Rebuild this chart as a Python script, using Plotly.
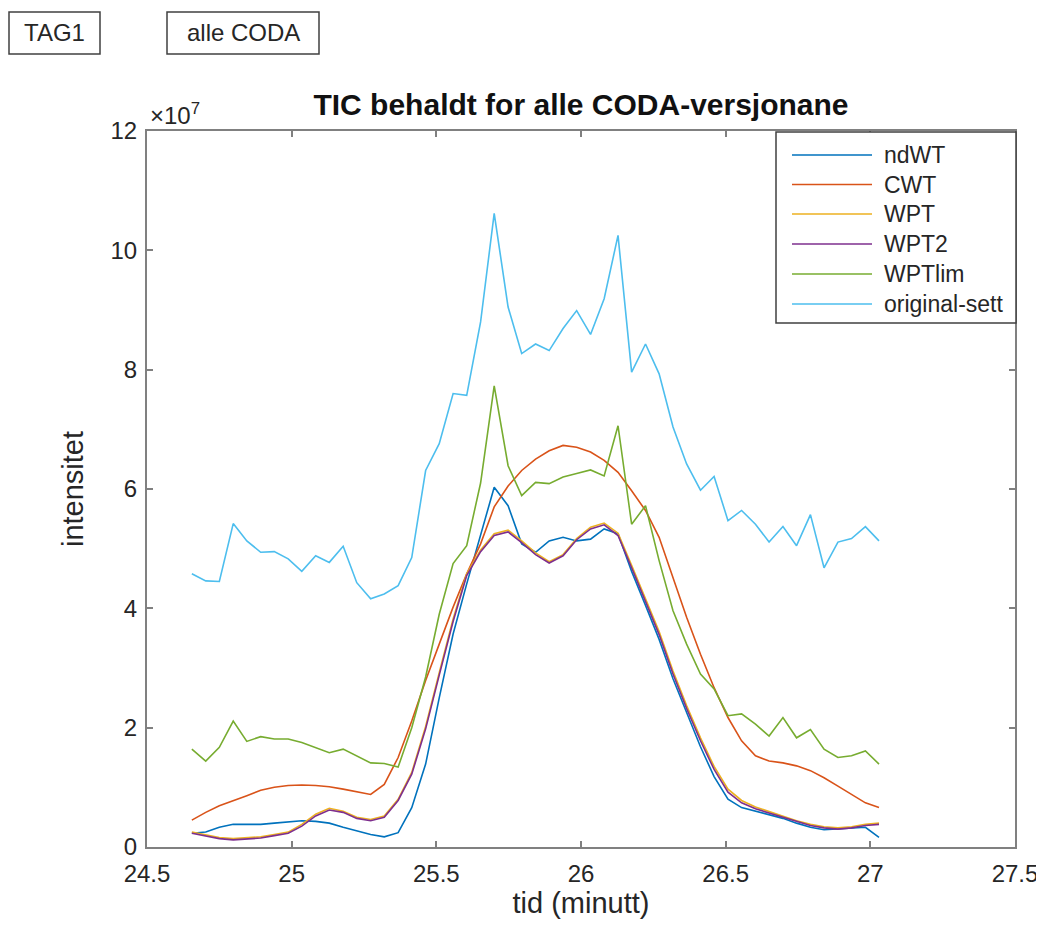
import plotly.graph_objects as go

# time (minutes)
tid = [24.655, 24.703, 24.750, 24.798, 24.845, 24.893, 24.940, 24.988, 25.035, 25.083,
       25.130, 25.178, 25.225, 25.273, 25.320, 25.368, 25.415, 25.463, 25.510, 25.558,
       25.605, 25.653, 25.700, 25.748, 25.795, 25.843, 25.890, 25.938, 25.985, 26.033,
       26.080, 26.128, 26.175, 26.223, 26.270, 26.318, 26.365, 26.413, 26.460, 26.508,
       26.555, 26.603, 26.650, 26.698, 26.745, 26.793, 26.840, 26.888, 26.935, 26.983,
       27.030]

# intensities in units of 1e7
ndWT = [0.23, 0.25, 0.33, 0.38, 0.38, 0.38, 0.40, 0.42, 0.44, 0.43,
        0.40, 0.33, 0.27, 0.21, 0.17, 0.24, 0.66, 1.39, 2.50, 3.57,
        4.41, 5.25, 6.03, 5.72, 5.08, 4.94, 5.13, 5.19, 5.13, 5.16,
        5.33, 5.25, 4.62, 4.05, 3.48, 2.82, 2.24, 1.68, 1.18, 0.80,
        0.66, 0.60, 0.54, 0.48, 0.40, 0.33, 0.29, 0.30, 0.32, 0.33,
        0.16]
CWT = [0.45, 0.58, 0.69, 0.77, 0.86, 0.95, 1.00, 1.03, 1.04, 1.03,
       1.01, 0.97, 0.92, 0.88, 1.05, 1.50, 2.11, 2.79, 3.40, 4.02,
       4.58, 5.08, 5.70, 6.05, 6.31, 6.50, 6.64, 6.73, 6.70, 6.62,
       6.48, 6.28, 5.97, 5.64, 5.19, 4.52, 3.85, 3.23, 2.67, 2.17,
       1.78, 1.53, 1.44, 1.41, 1.36, 1.28, 1.16, 1.02, 0.88, 0.74,
       0.66]
WPT = [0.25, 0.20, 0.16, 0.14, 0.15, 0.17, 0.21, 0.25, 0.38, 0.55,
       0.65, 0.60, 0.50, 0.46, 0.52, 0.80, 1.25, 2.02, 2.92, 3.82,
       4.58, 4.98, 5.25, 5.31, 5.13, 4.93, 4.78, 4.90, 5.17, 5.36,
       5.43, 5.26, 4.72, 4.17, 3.61, 2.95, 2.37, 1.83, 1.35, 0.97,
       0.78, 0.67, 0.59, 0.52, 0.44, 0.38, 0.34, 0.32, 0.34, 0.38,
       0.40]
WPT2 = [0.23, 0.18, 0.14, 0.12, 0.13, 0.15, 0.19, 0.23, 0.35, 0.52,
        0.62, 0.58, 0.48, 0.44, 0.50, 0.78, 1.22, 1.98, 2.88, 3.78,
        4.55, 4.95, 5.22, 5.28, 5.10, 4.90, 4.76, 4.88, 5.15, 5.33,
        5.40, 5.22, 4.68, 4.12, 3.56, 2.90, 2.32, 1.78, 1.30, 0.92,
        0.74, 0.64, 0.57, 0.50, 0.42, 0.36, 0.32, 0.30, 0.32, 0.36,
        0.38]
WPTlim = [1.64, 1.44, 1.67, 2.11, 1.77, 1.85, 1.81, 1.81, 1.75, 1.67,
          1.58, 1.64, 1.53, 1.41, 1.40, 1.34, 2.00, 2.85, 3.90, 4.75,
          5.05, 6.10, 7.73, 6.39, 5.89, 6.11, 6.09, 6.20, 6.26, 6.32,
          6.22, 7.06, 5.41, 5.72, 4.80, 3.96, 3.40, 2.90, 2.65, 2.20,
          2.23, 2.06, 1.86, 2.17, 1.83, 1.97, 1.64, 1.50, 1.53, 1.61,
          1.39]
original_sett = [4.58, 4.46, 4.45, 5.42, 5.13, 4.94, 4.95, 4.83, 4.62, 4.88,
                 4.77, 5.04, 4.43, 4.16, 4.24, 4.38, 4.85, 6.31, 6.76, 7.60,
                 7.57, 8.80, 10.62, 9.05, 8.27, 8.43, 8.32, 8.69, 8.99, 8.59,
                 9.19, 10.25, 7.96, 8.43, 7.93, 7.04, 6.42, 5.98, 6.21, 5.47,
                 5.64, 5.41, 5.11, 5.37, 5.05, 5.57, 4.68, 5.11, 5.17, 5.37,
                 5.13]

series_names = ["ndWT", "CWT", "WPT", "WPT2", "WPTlim", "original-sett"]
series_values = [ndWT, CWT, WPT, WPT2, WPTlim, original_sett]
series_colors = ["#0072BD", "#D95319", "#EDB120", "#7E2F8E", "#77AC30", "#4DBEEE"]

scale = 1e7
x_ticks = [24.5, 25, 25.5, 26, 26.5, 27, 27.5]
x_tick_labels = ["24.5", "25", "25.5", "26", "26.5", "27", "27.5"]
y_ticks = [0, 2, 4, 6, 8, 10, 12]
y_tick_labels = ["0", "2", "4", "6", "8", "10", "12"]

FONT = "Liberation Sans, Arial, Helvetica, sans-serif"
AXC = "#808080"
TXT = "#262626"

fig = go.Figure()
for name, vals, col in zip(series_names, series_values, series_colors):
    fig.add_trace(go.Scatter(
        x=tid, y=[v * scale for v in vals], mode="lines", name=name,
        line=dict(color=col, width=1.6), showlegend=False,
    ))

# the page body adds an 8 px offset; the figure is sized to fill the rest of the window
OFF = 8
W, H = 1044 - OFF, 926 - OFF
# target plot-area edges in window pixels: left 147, right 1015, top 131, bottom 847
L, R, T, B = 147 - OFF, W - (1015 - OFF), 131 - OFF, H - (847 - OFF)
pw, ph = W - L - R, H - T - B

def px(xp):
    """window pixel x -> paper x"""
    return (xp - OFF - L) / pw

def py(yp):
    """window pixel y -> paper y"""
    return (H - B - (yp - OFF)) / ph

axis_common = dict(
    showline=True, linecolor=AXC, linewidth=2, mirror="allticks",
    ticks="inside", ticklen=6, tickcolor=AXC, tickwidth=1.5,
    showgrid=False, zeroline=False, automargin=False,
    tickfont=dict(family=FONT, size=24, color=TXT),
)

fig.update_layout(
    width=W, height=H,
    margin=dict(l=L, r=R, t=T, b=B, autoexpand=False),
    paper_bgcolor="white", plot_bgcolor="white",
    font=dict(family=FONT, color=TXT),
    title=dict(text="<b>TIC behaldt for alle CODA-versjonane</b>",
               font=dict(family=FONT, size=30, color="#111111"),
               x=(L + pw / 2) / W, xanchor="center", xref="container",
               y=1 - 96 / H, yanchor="middle", yref="container"),
    xaxis=dict(range=[24.5, 27.5], tickvals=x_ticks, ticktext=x_tick_labels,
               ticklabelstandoff=4,
               title=dict(text="tid (minutt)", font=dict(family=FONT, size=29, color=TXT), standoff=6),
               **axis_common),
    yaxis=dict(range=[0, 12 * scale], tickvals=[v * scale for v in y_ticks], ticktext=y_tick_labels,
               ticklabelstandoff=3,
               title=dict(text="intensitet", font=dict(family=FONT, size=29, color=TXT), standoff=18),
               **axis_common),
    showlegend=False,
)

# x10^7 exponent label
fig.add_annotation(x=px(148), y=py(131), xref="paper", yref="paper",
                   text="×10<sup>7</sup>", showarrow=False, xanchor="left", yanchor="bottom",
                   font=dict(family=FONT, size=24, color=TXT))

# legend box (drawn by hand to match the reference layout)
fig.add_shape(type="rect", xref="paper", yref="paper",
              x0=px(776), x1=px(1016), y0=py(323), y1=py(132),
              line=dict(color="#404040", width=1.5), fillcolor="white", layer="above")
legend_rows_y = [155, 184.5, 214, 244, 274, 304]
for name, col, yy in zip(series_names, series_colors, legend_rows_y):
    fig.add_shape(type="line", xref="paper", yref="paper",
                  x0=px(792), x1=px(872), y0=py(yy), y1=py(yy),
                  line=dict(color=col, width=1.6), layer="above")
    fig.add_annotation(x=px(882), y=py(yy), xref="paper", yref="paper",
                       text=name, showarrow=False, xanchor="left", yanchor="middle",
                       font=dict(family=FONT, size=23, color=TXT))

# top-left boxes
for label, x0, x1 in [("TAG1", 9, 100), ("alle CODA", 167, 319)]:
    fig.add_shape(type="rect", xref="paper", yref="paper",
                  x0=px(x0), x1=px(x1), y0=py(54), y1=py(12),
                  line=dict(color="#404040", width=1.5), fillcolor="white")
    fig.add_annotation(x=px((x0 + x1) / 2), y=py(33), xref="paper", yref="paper",
                       text=label, showarrow=False, xanchor="center", yanchor="middle",
                       font=dict(family=FONT, size=24, color=TXT))

fig.write_html("out.html")
